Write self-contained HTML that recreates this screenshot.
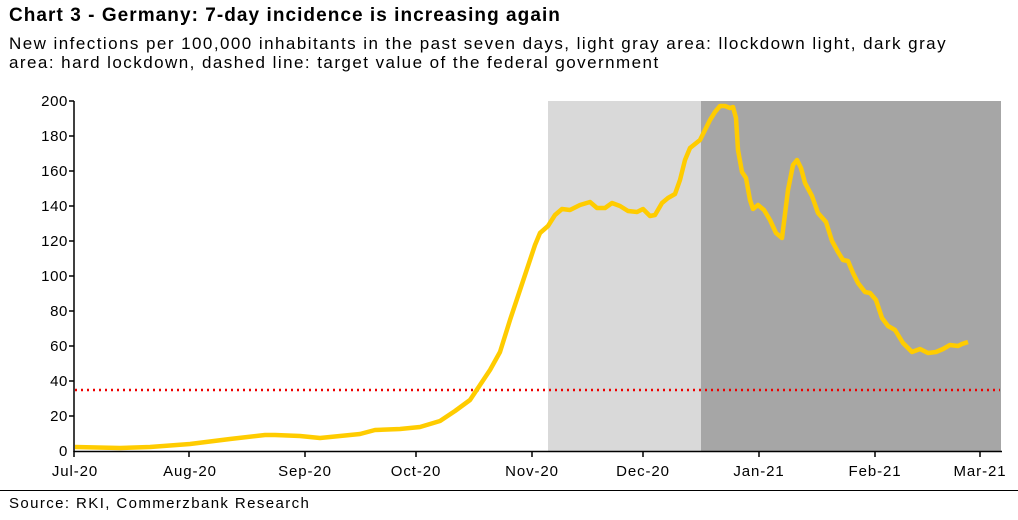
<!DOCTYPE html>
<html><head><meta charset="utf-8"><style>
body{margin:0;width:1018px;height:520px;background:#fff;font-family:"Liberation Sans",sans-serif;overflow:hidden;position:relative}
.t{position:absolute;left:9px;top:5px;font-size:19px;font-weight:bold;color:#000;letter-spacing:1.05px}
.s{position:absolute;left:9px;top:34px;font-size:17px;line-height:19px;color:#000;width:990px;letter-spacing:1.45px}
.src{position:absolute;left:9px;top:495px;font-size:15px;color:#000;letter-spacing:1.4px}
.line{position:absolute;left:0;top:490px;width:1018px;height:1px;background:#000}
</style></head><body>
<div class="t">Chart 3 - Germany: 7-day incidence is increasing again</div>
<div class="s">New infections per 100,000 inhabitants in the past seven days, light gray area: llockdown light, dark gray area: hard lockdown, dashed line: target value of the federal government</div>
<svg width="1018" height="520" style="position:absolute;left:0;top:0" font-family="Liberation Sans, sans-serif" font-size="15">
<rect x="548" y="101" width="153" height="350" fill="#d9d9d9"/>
<rect x="701" y="101" width="300" height="350" fill="#a6a6a6"/>
<g fill="#000" text-anchor="end" letter-spacing="0.6">
<text x="68" y="456">0</text><text x="68" y="421">20</text><text x="68" y="386">40</text><text x="68" y="351">60</text><text x="68" y="316">80</text><text x="68" y="281">100</text><text x="68" y="246">120</text><text x="68" y="211">140</text><text x="68" y="176">160</text><text x="68" y="141">180</text><text x="68" y="106">200</text>
</g>
<g stroke="#000" stroke-width="1.5">
<line x1="74" y1="101" x2="74" y2="452"/>
<line x1="74" y1="451.5" x2="1002" y2="451.5"/>
<line x1="69" y1="101" x2="74" y2="101"/><line x1="69" y1="136" x2="74" y2="136"/><line x1="69" y1="171" x2="74" y2="171"/><line x1="69" y1="206" x2="74" y2="206"/><line x1="69" y1="241" x2="74" y2="241"/><line x1="69" y1="276" x2="74" y2="276"/><line x1="69" y1="311" x2="74" y2="311"/><line x1="69" y1="346" x2="74" y2="346"/><line x1="69" y1="381" x2="74" y2="381"/><line x1="69" y1="416" x2="74" y2="416"/>
<line x1="74" y1="451" x2="74" y2="457"/><line x1="189" y1="451" x2="189" y2="457"/><line x1="305" y1="451" x2="305" y2="457"/><line x1="416" y1="451" x2="416" y2="457"/><line x1="532" y1="451" x2="532" y2="457"/><line x1="643" y1="451" x2="643" y2="457"/><line x1="759" y1="451" x2="759" y2="457"/><line x1="875" y1="451" x2="875" y2="457"/><line x1="980" y1="451" x2="980" y2="457"/>
</g>
<g fill="#000" text-anchor="middle" letter-spacing="0.9">
<text x="75" y="476">Jul-20</text><text x="190" y="476">Aug-20</text><text x="305" y="476">Sep-20</text><text x="416" y="476">Oct-20</text><text x="532" y="476">Nov-20</text><text x="643" y="476">Dec-20</text><text x="759" y="476">Jan-21</text><text x="875" y="476">Feb-21</text><text x="980" y="476">Mar-21</text>
</g>
<line x1="75" y1="390" x2="1000" y2="390" stroke="#e00" stroke-width="2.5" stroke-dasharray="2,4"/>
<polyline fill="none" stroke="#ffcc00" stroke-width="4.5" stroke-linejoin="round" points="75,447 120,448 150,447 190,444 230,439 265,435 275,435 300,436 320,438 340,436 360,434 375,430 400,429 420,427 440,421 455,411 470,400 480,385 490,370 500,352 510,320 520,290 530,260 535,245 540,233 548,226 555,215 562,209 570,210 580,205 590,202 597,208 605,208 612,203 620,206 628,211 637,212 643,209 650,216 655,215 662,203 668,198 675,194 680,180 685,160 690,148 695,144 700,140 705,130 710,120 715,112 720,106 725,106 730,108 733,107 736,118 738,150 742,172 746,178 750,200 753,209 758,205 764,210 770,220 776,233 782,238 788,190 793,165 797,160 801,168 805,183 812,196 818,213 826,222 832,241 838,252 843,260 848,261 853,273 858,283 865,292 870,293 876,300 882,318 888,326 895,330 903,343 912,352 920,349 928,353 936,352 943,349 950,345 958,346 962,344 968,342"/>
</svg>
<div class="line"></div>
<div class="src">Source: RKI, Commerzbank Research</div>
</body></html>
